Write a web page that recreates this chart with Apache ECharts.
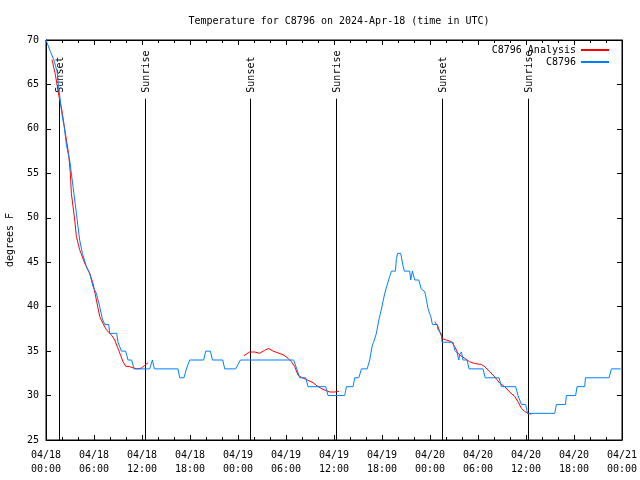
<!DOCTYPE html>
<html><head><meta charset="utf-8">
<script src="https://cdn.jsdelivr.net/npm/echarts@6/dist/echarts.min.js"></script>
<style>html,body{margin:0;padding:0;background:#fff}#c{width:640px;height:480px}</style>
</head><body><div id="c"></div>
<script>
// Hours since 2024-04-18 00:00 UTC
const blueHours = [0.00,0.55,0.96,1.38,1.59,1.80,2.00,2.30,2.55,2.84,2.96,3.13,3.38,3.59,3.80,4.00,4.21,4.55,5.05,5.46,5.88,6.30,6.71,7.05,7.34,7.84,7.96,8.84,9.00,9.25,9.43,9.96,10.25,10.71,11.00,12.96,13.30,13.55,16.50,16.71,17.25,17.55,17.96,19.71,19.96,20.55,20.80,22.09,22.34,23.71,24.30,30.96,31.34,31.71,32.46,32.75,34.96,35.25,37.34,37.55,38.38,38.59,39.10,39.43,40.15,40.46,40.80,40.95,41.10,41.30,41.60,41.90,42.34,42.60,42.96,43.18,43.68,43.80,43.96,44.34,44.60,44.80,45.46,45.59,45.80,46.09,46.60,46.90,47.34,47.55,47.75,47.96,48.10,48.30,48.90,49.00,49.40,49.50,50.88,51.09,51.38,51.60,51.71,51.93,52.13,52.63,52.88,54.63,54.90,56.63,56.93,58.71,59.00,59.43,59.96,60.18,63.59,63.80,64.93,65.05,66.20,66.38,67.34,67.43,70.38,70.68,71.84];
const blueTemps = [70,68.7,67.8,66.5,64.6,63.1,61.6,60.1,58.2,56.9,56.5,55.3,53.5,52.0,50.5,49.0,47.5,46.0,44.5,43.75,42.25,41.5,40.0,38.6,38,38,37,37,36,36,35,35,34,34,33,33,34,33,33,32,32,33,34,34,35,35,34,34,33,33,34,34,33,32,32,31,31,30,30,31,31,32,32,33,33,34,35.7,36,36,37,38.5,39.6,41.5,42.3,43.4,44,44,45.4,46,46,44.7,44,44,43,44,43,43,42,41.7,40.8,39.8,39.2,38.9,38,38,37.4,37,36,36,35.1,34.8,34,34.6,34.9,34,34,33,33,32,32,31,31,30,29,29,28,28,29,29,30,30,31,31,32,32,33,33];
// null marks a gap between analysis segments
const redHours = [0.75,1.17,1.59,2.00,2.42,2.84,3.05,3.17,3.59,3.80,4.21,4.84,5.46,5.88,6.30,6.71,7.13,7.55,8.18,8.59,9.00,9.30,9.63,9.96,10.46,11.09,11.43,11.93,12.34,12.75,
  18.0,
  24.75,25.46,26.09,26.71,27.34,27.84,28.38,29.00,29.63,30.25,30.68,31.09,31.50,31.93,32.55,33.38,34.00,34.63,35.46,36.09,36.63,
  42.0,
  48.60,49.00,49.20,49.40,49.55,50.05,50.68,51.09,51.50,51.93,52.34,52.96,53.59,54.43,54.84,55.46,56.09,56.71,57.34,57.96,58.59,59.00,59.43,59.84,60.25,60.68];
const redTemps = [67.8,66.1,63.8,62.0,59.5,57.1,54.9,52.75,49.75,47.9,46.4,44.9,43.75,42.6,40.75,38.9,38.1,37.4,36.8,36.25,35.3,34.6,33.8,33.3,33.25,33.06,33.0,33.1,33.4,33.7,
  null,
  34.5,34.9,34.9,34.75,35.1,35.3,35.0,34.8,34.6,34.2,33.8,33.25,32.3,32.05,31.8,31.45,31.0,30.7,30.4,30.4,30.5,
  null,
  38.3,37.75,37.2,36.8,36.4,36.25,36.06,35.5,34.75,34.4,34.2,33.8,33.6,33.5,33.25,32.7,32.1,31.4,31.0,30.4,29.9,29.3,28.56,28.2,28.0,27.9];
const eventHours = [1.625,12.375,25.5,36.25,49.5,60.25];
const eventLabels = ['Sunset','Sunrise','Sunset','Sunrise','Sunset','Sunrise'];
const eventLineTop = 63.4;
const xMin = 0, xMax = 72, xStep = 6;
const yMin = 25, yMax = 70, yStep = 5;
const startDay = 18;

const FONT = '"DejaVu Sans Mono", "Liberation Mono", monospace';
function pad(n){return (n<10?'0':'')+n;}
function xLabel(v){
  const day = startDay + Math.floor(v/24);
  const hh = Math.round(v % 24);
  return '04/' + pad(day) + '\n' + pad(hh) + ':00';
}
const chart = echarts.init(document.getElementById('c'), null, {renderer:'canvas'});
const axisCommon = {
  axisLine:{show:true, onZero:false, lineStyle:{color:'#000', width:1}},
  splitLine:{show:false}
};
chart.setOption({
  animation:false,
  backgroundColor:'#fff',
  title:{text:'Temperature for C8796 on 2024-Apr-18 (time in UTC)', left:334, top:11, textAlign:'center',
    textStyle:{fontFamily:FONT, fontSize:10, fontWeight:'normal', color:'#000'}},
  legend:{orient:'vertical', right:31, top:44, padding:0, align:'right', itemWidth:28, itemHeight:2, itemGap:0, icon:'rect',
    textStyle:{fontFamily:FONT, fontSize:10, lineHeight:12, color:'#000'}, data:['C8796 Analysis','C8796']},
  grid:{left:46, right:18, top:40, bottom:40, containLabel:false, outerBoundsMode:'none',
    show:true, borderColor:'#000', borderWidth:1, backgroundColor:'transparent'},
  xAxis:[
    Object.assign({type:'value', position:'bottom', min:xMin, max:xMax, interval:xStep,
      axisTick:{show:true, inside:true, length:5, lineStyle:{color:'#000'}},
      minorTick:{show:true, splitNumber:3, length:3, lineStyle:{color:'#000'}},
      axisLabel:{formatter:xLabel, fontFamily:FONT, fontSize:10, lineHeight:14, color:'#000', margin:8}}, axisCommon),
    Object.assign({type:'value', position:'top', min:xMin, max:xMax, interval:xStep,
      axisTick:{show:true, inside:true, length:5, lineStyle:{color:'#000'}},
      minorTick:{show:true, splitNumber:3, length:3, lineStyle:{color:'#000'}},
      axisLabel:{show:false}}, axisCommon)
  ],
  yAxis:[
    Object.assign({type:'value', position:'left', min:yMin, max:yMax, interval:yStep,
      name:'degrees F', nameLocation:'middle', nameGap:31, nameRotate:90,
      nameTextStyle:{fontFamily:FONT, fontSize:10, color:'#000'},
      axisTick:{show:true, inside:true, length:5, lineStyle:{color:'#000'}},
      axisLabel:{fontFamily:FONT, fontSize:10, color:'#000', margin:7}}, axisCommon),
    Object.assign({type:'value', position:'right', min:yMin, max:yMax, interval:yStep,
      axisTick:{show:true, inside:true, length:5, lineStyle:{color:'#000'}},
      axisLabel:{show:false}}, axisCommon)
  ],
  series:[
    {type:'custom', xAxisIndex:0, yAxisIndex:0, silent:true, z:1,
      data:eventHours.map(h=>[h, yMin]),
      encode:{x:0, y:1},
      renderItem:function(params, api){
        const h = api.value(0);
        const p0 = api.coord([h, yMin]);
        const p1 = api.coord([h, eventLineTop]);
        const x = Math.round(p0[0]) + 0.5;
        return {type:'group', children:[
          {type:'line', shape:{x1:x, y1:p0[1], x2:x, y2:p1[1]}, style:{stroke:'#000', lineWidth:1}},
          {type:'text', x:x+1, y:p1[1]-6, rotation:Math.PI/2,
            style:{text:eventLabels[params.dataIndex], fill:'#000', font:'10px ' + FONT, align:'left', verticalAlign:'middle'}}
        ]};
      }},
    {name:'C8796 Analysis', type:'line', xAxisIndex:0, yAxisIndex:0, showSymbol:false, symbol:'none', connectNulls:false, z:2,
      color:'#ff0000', lineStyle:{color:'#ff0000', width:1},
      data:redHours.map((h,i)=> redTemps[i]===null ? [h,'-'] : [h, redTemps[i]])},
    {name:'C8796', type:'line', xAxisIndex:0, yAxisIndex:0, showSymbol:false, symbol:'none', z:3,
      color:'#0080ff', lineStyle:{color:'#0080ff', width:1},
      data:blueHours.map((h,i)=>[h, blueTemps[i]])}
  ]
});
</script>
</body></html>
